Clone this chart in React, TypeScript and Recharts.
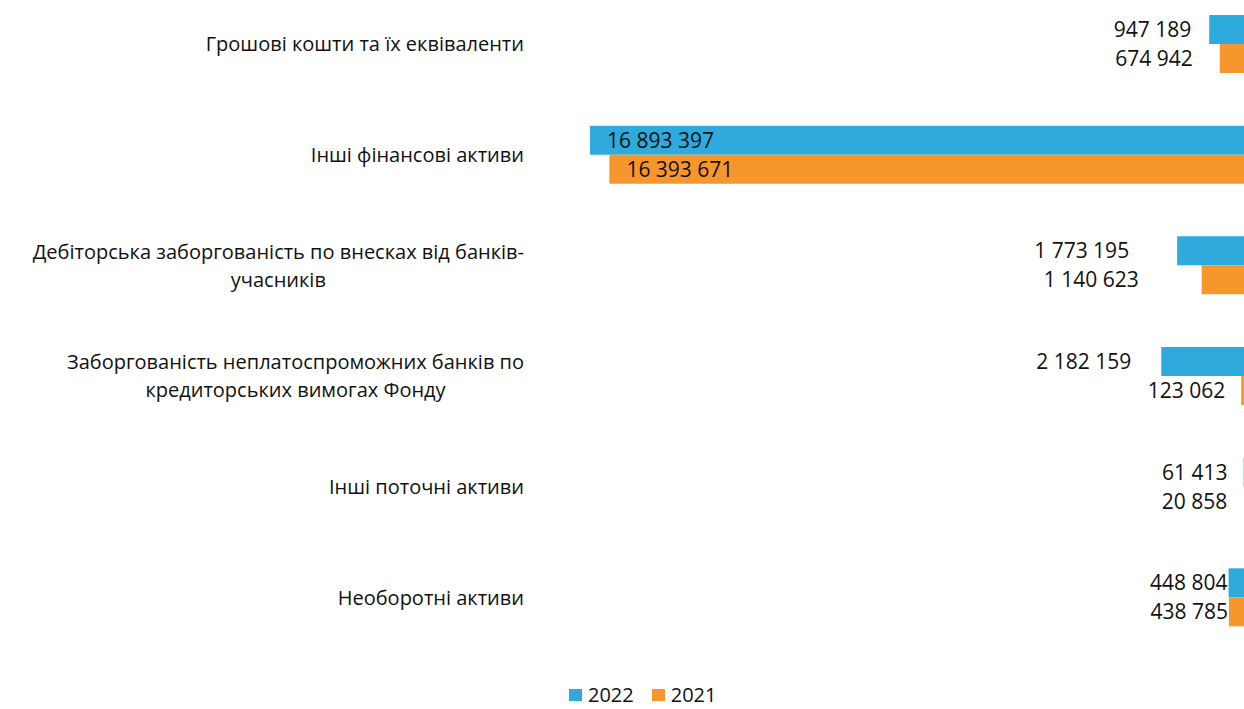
import { BarChart, Bar, XAxis, YAxis, Legend, LabelList } from 'recharts';

const categories = [
  'Грошові кошти та їх еквіваленти',
  'Інші фінансові активи',
  'Дебіторська заборгованість по внесках від банків-\nучасників',
  'Заборгованість неплатоспроможних банків по\nкредиторських вимогах Фонду',
  'Інші поточні активи',
  'Необоротні активи',
];
const values2022 = [947189, 16893397, 1773195, 2182159, 61413, 448804];
const values2021 = [674942, 16393671, 1140623, 123062, 20858, 438785];
const seriesNames = ['2022', '2021'];

// how far each value label sits from its bar end (negative = inside the bar)
const gap2022 = [18, -17, 48, 30, 16, 1];
const gap2021 = [27, -17, 63, 16, 18, 1];

const BLUE = '#2EAADC';
const ORANGE = '#F7962D';
const FONT = '"Open Sans", sans-serif';
const TEXT = '#111';
const LABEL_RIGHT = 524;

const data = categories.map((name, i) => ({
  name,
  y2022: values2022[i],
  y2021: values2021[i],
}));

const fmt = (v: number) => String(v).replace(/\B(?=(\d{3})+(?!\d))/g, ' ');

let ctx: CanvasRenderingContext2D | null = null;
const measure = (s: string, size: number) => {
  if (!ctx) ctx = document.createElement('canvas').getContext('2d');
  if (!ctx) return s.length * size * 0.55;
  ctx.font = `${size}px "Open Sans"`;
  return ctx.measureText(s).width;
};

const CategoryTick = ({ y, payload }: any) => {
  const lines = String(payload.value).split('\n');
  const size = 20;
  const lh = 28;
  const blockW = Math.max(...lines.map((l) => measure(l, size)));
  const cx = LABEL_RIGHT - blockW / 2;
  const first = y + 7 - ((lines.length - 1) * lh) / 2;
  return (
    <g>
      {lines.map((l, i) => (
        <text
          key={i}
          x={lines.length > 1 ? cx : LABEL_RIGHT}
          y={first + i * lh}
          textAnchor={lines.length > 1 ? 'middle' : 'end'}
          fontFamily={FONT}
          fontSize={size}
          fill={TEXT}
        >
          {l}
        </text>
      ))}
    </g>
  );
};

const makeValueLabel = (gaps: number[]) => (props: any) => {
  const { x, y, width, height, value, index } = props;
  const end = Math.min(x, x + width);
  const g = gaps[index];
  return (
    <text
      x={end - g}
      y={y + height / 2 + 7.5}
      textAnchor={g < 0 ? 'start' : 'end'}
      fontFamily={FONT}
      fontSize={21}
      fill={TEXT}
    >
      {fmt(value)}
    </text>
  );
};

const LegendContent = () => (
  <div style={{ display: 'flex', alignItems: 'center', height: 20, lineHeight: '20px', fontFamily: FONT, fontSize: 20, color: TEXT }}>
    {seriesNames.map((n, i) => (
      <div key={n} style={{ display: 'flex', alignItems: 'center', marginRight: 18 }}>
        <span style={{ width: 13, height: 12, background: i === 0 ? BLUE : ORANGE, display: 'inline-block', marginRight: 6 }} />
        <span>{n}</span>
      </div>
    ))}
  </div>
);

export default function App() {
  return (
    <div style={{ position: 'absolute', left: 0, top: 0, width: 1244, height: 709, overflow: 'hidden', background: '#fff' }}>
      <BarChart
        layout="vertical"
        width={1262}
        height={709}
        data={data}
        margin={{ top: -11, right: 16, bottom: 56, left: 0 }}
        barGap={0}
        barSize={29}
      >
        <XAxis type="number" domain={[0, 18000000]} reversed hide />
        <YAxis
          type="category"
          dataKey="name"
          width={547}
          axisLine={false}
          tickLine={false}
          interval={0}
          tick={<CategoryTick />}
        />
        <Legend
          verticalAlign="middle"
          align="center"
          content={<LegendContent />}
          wrapperStyle={{ top: 685, left: 569, width: 200, height: 20 }}
        />
        <Bar dataKey="y2022" name={seriesNames[0]} fill={BLUE} isAnimationActive={false}>
          <LabelList dataKey="y2022" content={makeValueLabel(gap2022)} />
        </Bar>
        <Bar dataKey="y2021" name={seriesNames[1]} fill={ORANGE} isAnimationActive={false}>
          <LabelList dataKey="y2021" content={makeValueLabel(gap2021)} />
        </Bar>
      </BarChart>
    </div>
  );
}
